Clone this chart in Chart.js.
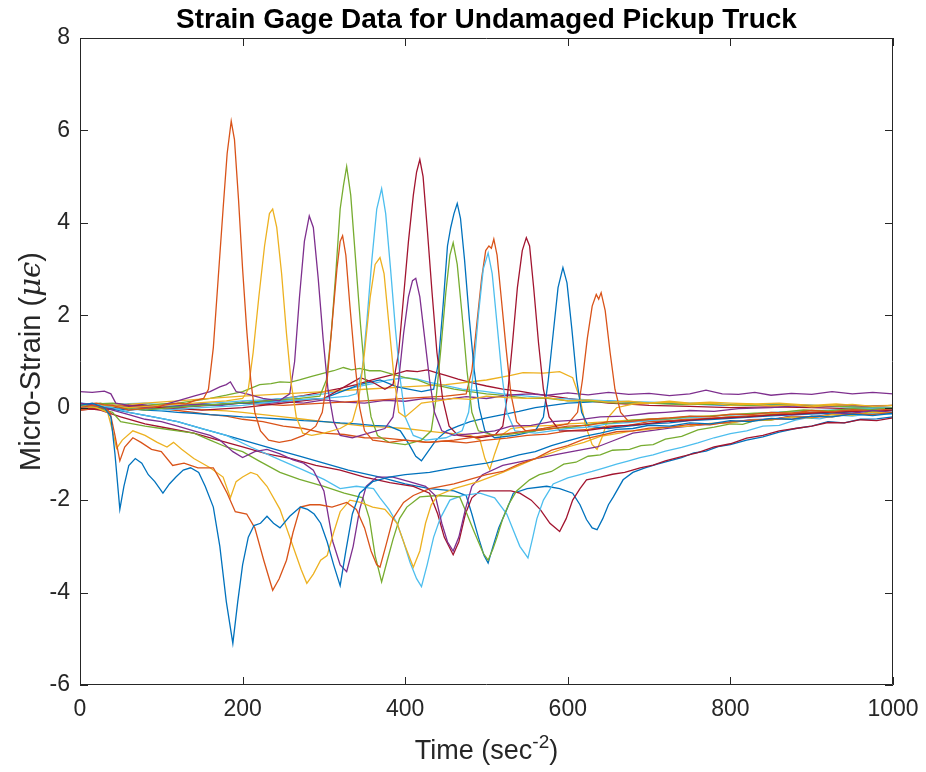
<!DOCTYPE html>
<html lang="en">
<head>
    <meta charset="UTF-8">
    <title>Strain Gage Data for Undamaged Pickup Truck</title>
    <script src="https://cdn.jsdelivr.net/npm/chart.js"></script>
    <style>
        body { margin: 0; background: #fff; }
    </style>
</head>
<body>
    <canvas id="myChart" width="926" height="772"></canvas>
    <script>
        // axis ticks
        const xTicks = [0, 200, 400, 600, 800, 1000];
        const yTicks = [-6, -4, -2, 0, 2, 4, 6, 8];

        // MATLAB default line colours, in plotting order
        const seriesColors = [
            '#0072BD', '#D95319', '#EDB120', '#7E2F8E', '#77AC30', '#4DBEEE', '#A2142F', '#0072BD',
            '#D95319', '#EDB120', '#7E2F8E', '#77AC30', '#4DBEEE', '#A2142F', '#0072BD', '#D95319',
            '#EDB120', '#7E2F8E', '#77AC30', '#4DBEEE', '#A2142F', '#0072BD', '#D95319', '#EDB120'
        ];

        // gages with two negative dips  [time, micro-strain]
        const gage01 = [[0,0.05],[15,0.1],[30,0.0],[38,-0.2],[43,-1.0],[49,-2.2],[54,-1.7],[60,-1.25],[68,-1.1],[76,-1.2],[84,-1.45],[92,-1.6],[102,-1.85],[110,-1.65],[118,-1.5],[127,-1.35],[136,-1.3],[146,-1.4],[154,-1.7],[164,-2.15],[172,-3.0],[180,-4.2],[188,-5.1],[194,-4.2],[200,-3.4],[207,-2.8],[214,-2.55],[222,-2.5],[230,-2.35],[238,-2.5],[246,-2.6],[258,-2.35],[271,-2.15],[280,-2.2],[288,-2.3],[296,-2.5],[304,-2.9],[312,-3.4],[320,-3.85],[327,-3.1],[335,-2.3],[344,-1.85],[360,-1.6],[380,-1.5],[400,-1.45],[430,-1.4],[460,-1.3],[500,-1.2],[520,-1.12],[540,-1.02],[560,-0.95],[580,-0.82],[600,-0.72],[620,-0.62],[640,-0.55],[660,-0.47],[680,-0.45],[700,-0.38],[725,-0.4],[750,-0.33],[775,-0.35],[800,-0.28],[825,-0.3],[850,-0.23],[875,-0.25],[900,-0.18],[925,-0.2],[950,-0.14],[975,-0.17],[1000,-0.12]];
        const gage02 = [[0,0.0],[15,0.05],[30,0.0],[37,-0.1],[43,-0.6],[49,-1.15],[55,-0.85],[65,-0.65],[75,-0.75],[88,-0.9],[100,-0.95],[114,-1.25],[128,-1.2],[145,-1.3],[164,-1.3],[172,-1.55],[181,-1.85],[191,-2.25],[205,-2.3],[215,-2.6],[226,-3.3],[237,-3.95],[245,-3.7],[254,-3.3],[262,-2.7],[271,-2.15],[283,-2.1],[295,-2.1],[310,-2.15],[328,-2.05],[340,-2.2],[350,-2.6],[358,-3.1],[365,-3.4],[369,-3.45],[376,-3.0],[385,-2.4],[398,-2.05],[410,-1.9],[430,-1.75],[460,-1.65],[500,-1.45],[520,-1.38],[540,-1.22],[560,-1.1],[580,-0.92],[600,-0.82],[620,-0.68],[640,-0.6],[660,-0.52],[680,-0.5],[700,-0.44],[725,-0.42],[750,-0.36],[775,-0.37],[800,-0.3],[825,-0.28],[850,-0.24],[875,-0.25],[900,-0.19],[925,-0.2],[950,-0.13],[975,-0.15],[1000,-0.1]];
        const gage03 = [[0,0.05],[20,0.0],[34,-0.1],[40,-0.5],[45,-0.88],[52,-0.7],[65,-0.5],[80,-0.6],[95,-0.75],[107,-0.85],[115,-0.75],[125,-0.9],[140,-1.1],[160,-1.3],[176,-1.5],[185,-1.95],[192,-1.6],[200,-1.5],[210,-1.4],[218,-1.45],[230,-1.7],[246,-2.2],[260,-2.9],[272,-3.5],[279,-3.8],[287,-3.6],[296,-3.3],[304,-3.2],[312,-2.7],[320,-2.25],[332,-2.0],[345,-2.05],[360,-2.15],[375,-2.2],[390,-2.5],[400,-3.0],[410,-3.45],[418,-3.1],[425,-2.5],[432,-2.1],[440,-1.9],[460,-1.75],[490,-1.6],[520,-1.4],[560,-1.1],[600,-0.85],[620,-0.75],[640,-0.62],[660,-0.56],[680,-0.5],[700,-0.47],[725,-0.42],[750,-0.4],[775,-0.34],[800,-0.33],[825,-0.27],[850,-0.26],[875,-0.2],[900,-0.21],[925,-0.15],[950,-0.16],[975,-0.1],[1000,-0.12]];
        const gage04 = [[0,0.1],[20,0.05],[40,-0.05],[60,-0.15],[80,-0.25],[100,-0.3],[120,-0.4],[140,-0.5],[160,-0.6],[172,-0.7],[188,-0.95],[200,-1.08],[215,-0.95],[230,-0.9],[246,-1.0],[262,-1.13],[275,-1.2],[287,-1.35],[300,-1.8],[311,-2.9],[320,-3.4],[328,-3.55],[336,-3.0],[344,-2.2],[352,-1.7],[365,-1.5],[385,-1.5],[405,-1.6],[425,-1.7],[437,-1.9],[445,-2.5],[452,-2.9],[459,-3.1],[466,-2.8],[474,-2.2],[482,-1.7],[495,-1.45],[520,-1.25],[553,-1.13],[590,-1.0],[636,-0.85],[655,-0.72],[680,-0.55],[700,-0.5],[725,-0.44],[750,-0.4],[775,-0.35],[800,-0.32],[825,-0.26],[850,-0.25],[875,-0.18],[900,-0.2],[925,-0.14],[950,-0.12],[975,-0.06],[1000,-0.1]];
        const gage05 = [[0,0.05],[20,0.0],[40,-0.1],[50,-0.3],[65,-0.35],[80,-0.4],[100,-0.45],[120,-0.5],[140,-0.55],[160,-0.7],[180,-0.85],[200,-0.95],[220,-1.15],[246,-1.4],[270,-1.55],[300,-1.7],[325,-1.85],[348,-1.95],[356,-2.4],[363,-3.2],[371,-3.77],[378,-3.3],[385,-2.85],[393,-2.4],[402,-2.15],[418,-1.93],[440,-1.9],[467,-1.93],[476,-2.3],[484,-2.65],[496,-3.15],[502,-3.3],[508,-3.05],[513,-2.8],[520,-2.4],[527,-2.1],[537,-1.8],[553,-1.56],[565,-1.45],[580,-1.38],[595,-1.22],[610,-1.18],[625,-1.05],[640,-1.02],[655,-0.92],[676,-0.9],[690,-0.82],[705,-0.8],[720,-0.68],[740,-0.62],[760,-0.48],[780,-0.42],[800,-0.35],[815,-0.36],[830,-0.28],[850,-0.27],[870,-0.2],[900,-0.22],[925,-0.14],[950,-0.16],[975,-0.08],[1000,-0.1]];
        const gage06 = [[0,0.0],[20,0.05],[40,0.0],[60,-0.1],[90,-0.2],[120,-0.3],[150,-0.45],[180,-0.6],[210,-0.85],[246,-1.13],[275,-1.35],[300,-1.55],[320,-1.75],[340,-1.7],[361,-1.75],[369,-1.95],[380,-2.2],[390,-2.5],[398,-2.9],[406,-3.35],[414,-3.7],[420,-3.87],[427,-3.4],[435,-2.8],[443,-2.4],[455,-2.0],[470,-1.9],[492,-1.85],[510,-1.95],[525,-2.3],[533,-2.65],[541,-3.0],[551,-3.25],[557,-2.8],[562,-2.4],[570,-2.0],[582,-1.65],[600,-1.52],[615,-1.45],[630,-1.38],[645,-1.3],[660,-1.22],[675,-1.15],[689,-1.08],[705,-1.02],[720,-0.94],[740,-0.86],[760,-0.76],[780,-0.65],[800,-0.56],[820,-0.5],[840,-0.4],[860,-0.38],[880,-0.27],[894,-0.22],[910,-0.24],[930,-0.16],[950,-0.18],[975,-0.12],[1000,-0.14]];
        const gage07 = [[0,0.0],[25,-0.05],[50,-0.2],[80,-0.35],[110,-0.45],[140,-0.55],[170,-0.7],[200,-0.85],[230,-1.0],[260,-1.1],[290,-1.25],[320,-1.35],[350,-1.5],[381,-1.62],[410,-1.7],[430,-1.85],[440,-2.3],[448,-2.8],[459,-3.18],[466,-2.9],[474,-2.3],[482,-1.95],[492,-1.8],[510,-1.8],[530,-1.8],[541,-1.85],[555,-2.0],[566,-2.2],[578,-2.5],[590,-2.68],[598,-2.4],[606,-2.0],[615,-1.75],[623,-1.56],[640,-1.5],[655,-1.44],[670,-1.4],[689,-1.3],[705,-1.24],[720,-1.15],[740,-1.06],[760,-0.97],[780,-0.85],[800,-0.78],[820,-0.66],[840,-0.6],[860,-0.5],[880,-0.45],[900,-0.4],[920,-0.32],[940,-0.33],[960,-0.26],[980,-0.28],[1000,-0.22]];
        const gage08 = [[0,0.05],[30,0.0],[60,-0.1],[90,-0.2],[120,-0.3],[150,-0.45],[180,-0.6],[210,-0.75],[240,-0.9],[270,-1.05],[300,-1.2],[330,-1.35],[369,-1.5],[400,-1.65],[430,-1.75],[460,-1.8],[475,-1.9],[482,-2.3],[490,-2.8],[497,-3.2],[502,-3.36],[508,-3.0],[515,-2.6],[525,-2.2],[533,-1.85],[550,-1.75],[574,-1.7],[590,-1.75],[606,-1.85],[615,-2.1],[623,-2.42],[630,-2.6],[636,-2.64],[643,-2.4],[650,-2.1],[656,-1.93],[668,-1.56],[680,-1.4],[695,-1.3],[710,-1.22],[725,-1.15],[740,-1.08],[755,-0.98],[770,-0.94],[785,-0.84],[800,-0.8],[820,-0.7],[840,-0.63],[860,-0.53],[880,-0.45],[900,-0.4],[920,-0.3],[940,-0.33],[960,-0.25],[980,-0.24],[1000,-0.2]];

        // gages with two positive peaks
        const gage09 = [[0,0.05],[10,0.08],[20,0.1],[30,0.06],[40,0.05],[50,0.0],[60,-0.05],[75,-0.02],[90,0.0],[105,0.06],[120,0.1],[130,0.08],[140,0.15],[152,0.2],[158,0.4],[164,1.3],[170,2.8],[176,4.3],[181,5.5],[186,6.2],[190,5.8],[195,4.5],[200,3.0],[205,1.7],[210,0.6],[215,-0.1],[222,-0.5],[232,-0.7],[245,-0.75],[260,-0.7],[275,-0.6],[290,-0.4],[298,-0.1],[304,0.6],[310,1.8],[316,3.0],[320,3.6],[323,3.72],[327,3.3],[332,2.2],[338,1.0],[344,0.0],[350,-0.5],[360,-0.7],[380,-0.75],[400,-0.7],[430,-0.75],[460,-0.7],[500,-0.6],[525,-0.56],[550,-0.5],[575,-0.47],[600,-0.4],[625,-0.38],[650,-0.3],[675,-0.3],[700,-0.25],[725,-0.22],[750,-0.18],[775,-0.2],[800,-0.14],[825,-0.15],[850,-0.1],[875,-0.12],[900,-0.06],[925,-0.09],[950,-0.04],[975,-0.07],[1000,-0.02]];
        const gage10 = [[0,0.0],[30,0.05],[60,0.0],[100,0.05],[140,0.1],[180,0.15],[200,0.2],[207,0.4],[213,1.2],[220,2.4],[227,3.5],[233,4.2],[237,4.3],[242,3.9],[248,2.9],[254,1.6],[260,0.5],[266,-0.2],[274,-0.55],[285,-0.6],[300,-0.55],[320,-0.45],[335,-0.3],[343,0.2],[350,1.2],[357,2.4],[363,3.1],[369,3.25],[374,2.9],[380,1.8],[386,0.7],[392,-0.1],[400,-0.2],[420,0.1],[440,0.15],[460,0.2],[480,0.18],[500,0.25],[525,0.22],[550,0.2],[575,0.22],[600,0.15],[625,0.17],[650,0.12],[675,0.14],[700,0.1],[725,0.12],[750,0.08],[775,0.1],[800,0.05],[825,0.08],[850,0.04],[875,0.06],[900,0.02],[925,0.05],[950,0.07],[975,0.03],[1000,0.05]];
        const gage11 = [[0,0.35],[15,0.33],[30,0.36],[38,0.3],[44,0.1],[60,0.05],[80,0.0],[100,0.05],[120,0.15],[140,0.25],[160,0.35],[172,0.45],[180,0.5],[185,0.56],[192,0.35],[205,0.3],[225,0.2],[245,0.15],[258,0.3],[264,1.0],[270,2.4],[276,3.6],[282,4.15],[287,3.9],[293,2.8],[299,1.5],[305,0.4],[312,-0.3],[320,-0.6],[335,-0.65],[355,-0.55],[375,-0.45],[385,-0.2],[392,0.6],[398,1.6],[404,2.4],[409,2.75],[413,2.8],[418,2.4],[424,1.5],[430,0.6],[436,-0.1],[445,-0.5],[460,-0.6],[490,-0.55],[510,-0.5],[530,-0.4],[555,-0.38],[580,-0.3],[610,-0.27],[640,-0.2],[670,-0.18],[700,-0.12],[720,-0.1],[750,-0.06],[780,-0.08],[810,-0.02],[850,0.0],[880,0.04],[910,0.02],[940,0.06],[970,0.03],[1000,0.05]];
        const gage12 = [[0,0.05],[25,0.1],[50,0.0],[80,-0.05],[110,0.0],[150,0.05],[190,0.1],[230,0.15],[270,0.2],[295,0.25],[303,0.6],[309,1.6],[315,3.0],[320,4.3],[324,4.8],[328,5.22],[333,4.6],[339,3.2],[345,1.8],[351,0.6],[358,-0.2],[366,-0.6],[380,-0.75],[400,-0.8],[420,-0.7],[432,-0.5],[438,0.2],[444,1.3],[450,2.5],[455,3.3],[459,3.57],[464,3.1],[470,2.0],[476,0.8],[482,-0.1],[490,-0.5],[510,-0.6],[525,-0.58],[540,-0.55],[560,-0.5],[580,-0.45],[605,-0.42],[630,-0.35],[655,-0.33],[680,-0.27],[700,-0.25],[725,-0.24],[750,-0.19],[775,-0.18],[800,-0.15],[830,-0.12],[860,-0.1],[890,-0.05],[920,-0.07],[950,-0.02],[975,-0.04],[1000,0.0]];
        const gage13 = [[0,0.1],[30,0.05],[60,0.0],[100,-0.05],[150,0.0],[200,0.05],[250,0.15],[300,0.2],[330,0.25],[340,0.3],[347,0.8],[353,1.9],[359,3.2],[365,4.3],[371,4.74],[376,4.2],[382,3.0],[388,1.7],[394,0.6],[400,-0.2],[410,-0.6],[425,-0.7],[450,-0.65],[470,-0.5],[478,-0.1],[484,0.8],[490,2.0],[496,3.0],[502,3.35],[507,2.9],[513,1.8],[519,0.7],[525,-0.1],[535,-0.5],[560,-0.55],[580,-0.5],[600,-0.45],[625,-0.42],[650,-0.35],[675,-0.32],[700,-0.28],[720,-0.25],[745,-0.22],[770,-0.2],[795,-0.16],[820,-0.15],[850,-0.1],[880,-0.08],[920,-0.05],[960,-0.02],[1000,0.0]];
        const gage14 = [[0,0.0],[30,-0.05],[60,0.05],[100,0.0],[150,-0.05],[200,0.0],[250,0.1],[300,0.2],[330,0.5],[345,0.65],[360,0.55],[375,0.4],[385,0.5],[392,1.2],[398,2.4],[404,3.6],[410,4.6],[414,5.1],[418,5.37],[422,5.0],[427,3.9],[433,2.5],[439,1.2],[446,0.2],[454,-0.4],[465,-0.6],[490,-0.65],[510,-0.6],[520,-0.4],[526,0.3],[532,1.4],[538,2.6],[544,3.4],[549,3.68],[553,3.5],[558,2.6],[564,1.4],[570,0.4],[577,-0.2],[590,-0.5],[620,-0.5],[640,-0.45],[660,-0.4],[690,-0.36],[720,-0.3],[745,-0.28],[770,-0.24],[795,-0.22],[820,-0.2],[850,-0.16],[880,-0.14],[920,-0.1],[960,-0.08],[1000,-0.05]];
        const gage15 = [[0,0.05],[30,0.0],[60,-0.05],[100,0.0],[150,0.05],[200,0.1],[250,0.15],[300,0.2],[344,0.5],[369,0.6],[390,0.45],[420,0.35],[435,0.4],[441,1.0],[447,2.3],[452,3.5],[456,3.9],[460,4.2],[464,4.42],[468,4.1],[473,3.2],[479,1.9],[485,0.8],[491,0.0],[498,-0.5],[510,-0.65],[535,-0.6],[560,-0.5],[570,-0.2],[576,0.6],[582,1.6],[588,2.6],[594,3.03],[599,2.7],[605,1.7],[611,0.6],[617,-0.1],[625,-0.4],[650,-0.45],[675,-0.4],[700,-0.35],[725,-0.33],[750,-0.28],[780,-0.25],[810,-0.22],[845,-0.18],[880,-0.15],[920,-0.12],[960,-0.08],[1000,-0.05]];
        const gage16 = [[0,-0.05],[30,0.0],[60,0.05],[100,0.0],[150,0.05],[200,0.1],[250,0.05],[300,0.1],[350,0.15],[400,0.2],[450,0.25],[475,0.3],[482,0.8],[488,1.8],[494,2.8],[499,3.4],[503,3.5],[506,3.45],[509,3.65],[513,3.3],[518,2.4],[524,1.3],[530,0.3],[537,-0.3],[548,-0.5],[570,-0.45],[600,-0.35],[612,-0.1],[618,0.6],[624,1.5],[630,2.2],[635,2.45],[638,2.35],[641,2.49],[646,2.1],[652,1.2],[658,0.4],[665,-0.1],[675,-0.3],[700,-0.28],[720,-0.3],[745,-0.25],[770,-0.24],[800,-0.2],[830,-0.17],[860,-0.14],[900,-0.1],[940,-0.08],[970,-0.06],[1000,-0.05]];

        // gages with small responses
        const gage17 = [[0,0.0],[40,0.05],[80,0.1],[120,0.15],[160,0.2],[200,0.25],[250,0.3],[300,0.35],[350,0.4],[400,0.45],[450,0.5],[500,0.6],[530,0.7],[545,0.76],[570,0.75],[590,0.78],[606,0.65],[615,0.2],[622,-0.4],[630,-0.8],[636,-0.9],[643,-0.6],[650,-0.2],[660,0.0],[680,0.08],[700,0.1],[725,0.14],[750,0.1],[775,0.12],[800,0.1],[830,0.08],[860,0.1],[900,0.05],[930,0.08],[960,0.04],[1000,0.05]];
        const gage18 = [[0,0.0],[25,0.04],[50,0.02],[75,0.07],[100,0.0],[125,0.05],[150,0.08],[175,0.05],[200,0.12],[225,0.08],[250,0.13],[275,0.1],[300,0.17],[325,0.12],[350,0.1],[375,0.16],[400,0.14],[425,0.2],[450,0.18],[475,0.24],[500,0.2],[525,0.27],[553,0.3],[575,0.27],[600,0.32],[625,0.28],[650,0.33],[675,0.29],[700,0.31],[725,0.26],[750,0.3],[770,0.38],[790,0.3],[810,0.29],[830,0.33],[850,0.27],[875,0.31],[900,0.29],[925,0.35],[950,0.3],[975,0.33],[1000,0.3]];
        const gage19 = [[0,0.05],[20,0.08],[40,0.1],[60,0.06],[80,0.05],[100,0.08],[120,0.1],[140,0.15],[160,0.2],[180,0.27],[200,0.35],[221,0.5],[235,0.52],[246,0.56],[258,0.55],[270,0.6],[285,0.68],[300,0.75],[312,0.8],[324,0.87],[334,0.82],[344,0.85],[356,0.8],[369,0.8],[385,0.72],[400,0.65],[415,0.6],[430,0.5],[445,0.46],[460,0.4],[480,0.35],[500,0.3],[525,0.26],[550,0.2],[575,0.2],[600,0.15],[630,0.14],[660,0.1],[700,0.1],[740,0.07],[780,0.08],[820,0.05],[860,0.06],[900,0.05],[950,0.02],[1000,0.0]];
        const gage20 = [[0,0.1],[20,0.07],[40,0.05],[60,0.09],[80,0.1],[100,0.06],[120,0.05],[140,0.08],[160,0.1],[180,0.12],[200,0.15],[225,0.17],[250,0.2],[275,0.25],[300,0.3],[320,0.36],[340,0.45],[360,0.52],[380,0.6],[400,0.65],[415,0.62],[430,0.55],[450,0.48],[470,0.4],[495,0.36],[520,0.3],[550,0.25],[580,0.2],[615,0.18],[650,0.15],[700,0.12],[750,0.1],[800,0.07],[850,0.05],[900,0.04],[950,0.02],[1000,0.0]];
        const gage21 = [[0,-0.05],[20,-0.02],[40,0.0],[60,0.03],[80,0.05],[100,0.02],[120,0.0],[140,0.03],[160,0.05],[180,0.08],[200,0.1],[225,0.15],[250,0.2],[275,0.26],[300,0.35],[320,0.42],[340,0.5],[355,0.58],[370,0.65],[386,0.72],[402,0.8],[415,0.78],[427,0.82],[438,0.76],[450,0.7],[465,0.62],[480,0.55],[500,0.47],[520,0.4],[540,0.36],[560,0.3],[580,0.25],[600,0.2],[625,0.15],[650,0.1],[675,0.08],[700,0.05],[750,0.03],[800,0.0],[850,0.02],[900,0.0],[950,-0.02],[1000,0.0]];
        const gage22 = [[0,0.05],[20,0.02],[40,0.0],[60,-0.02],[80,-0.05],[100,-0.07],[120,-0.1],[140,-0.12],[160,-0.15],[180,-0.17],[200,-0.2],[225,-0.22],[250,-0.25],[275,-0.28],[300,-0.3],[320,-0.33],[340,-0.35],[360,-0.38],[380,-0.4],[394,-0.5],[405,-0.8],[413,-1.05],[420,-1.15],[428,-0.95],[438,-0.7],[451,-0.5],[465,-0.4],[480,-0.3],[500,-0.22],[520,-0.15],[540,-0.08],[560,0.0],[580,0.05],[600,0.1],[625,0.12],[650,0.15],[675,0.12],[700,0.1],[750,0.08],[800,0.05],[850,0.06],[900,0.05],[950,0.02],[1000,0.0]];
        const gage23 = [[0,0.0],[20,0.04],[40,0.06],[60,0.02],[80,0.0],[100,-0.02],[120,-0.06],[140,-0.1],[160,-0.15],[180,-0.18],[200,-0.25],[225,-0.3],[250,-0.4],[275,-0.45],[300,-0.55],[325,-0.58],[350,-0.65],[375,-0.66],[400,-0.7],[425,-0.75],[450,-0.72],[475,-0.76],[500,-0.7],[525,-0.66],[550,-0.6],[575,-0.57],[600,-0.5],[625,-0.47],[650,-0.4],[675,-0.38],[700,-0.3],[750,-0.26],[800,-0.2],[850,-0.16],[900,-0.1],[950,-0.06],[1000,0.0]];
        const gage24 = [[0,0.05],[20,0.02],[40,0.0],[60,0.03],[80,0.05],[100,0.02],[120,0.0],[140,-0.03],[160,-0.05],[180,-0.07],[200,-0.1],[225,-0.15],[250,-0.2],[275,-0.25],[300,-0.3],[325,-0.35],[350,-0.4],[375,-0.42],[400,-0.45],[425,-0.5],[450,-0.55],[470,-0.57],[480,-0.6],[492,-0.7],[498,-1.1],[504,-1.34],[510,-1.0],[518,-0.6],[530,-0.45],[545,-0.42],[560,-0.4],[580,-0.38],[600,-0.35],[625,-0.33],[650,-0.3],[675,-0.27],[700,-0.25],[750,-0.2],[800,-0.15],[850,-0.12],[900,-0.1],[950,-0.05],[1000,0.0]];

        const allGages = [gage01, gage02, gage03, gage04, gage05, gage06, gage07, gage08,
                          gage09, gage10, gage11, gage12, gage13, gage14, gage15, gage16,
                          gage17, gage18, gage19, gage20, gage21, gage22, gage23, gage24];

        const axisColor = '#262626';
        const fontFamily = '"Liberation Sans", Arial, sans-serif';

        // MATLAB-style box with inward ticks and axis labels
        const matlabFrame = {
            id: 'matlabFrame',
            afterDatasetsDraw(chart) {
                const { ctx, chartArea: a, scales: { x, y } } = chart;
                ctx.save();
                ctx.strokeStyle = axisColor;
                ctx.lineWidth = 1;
                ctx.beginPath();
                ctx.rect(a.left + 0.5, a.top + 0.5, a.right - a.left - 1, a.bottom - a.top - 1);
                xTicks.forEach(v => {
                    const px = Math.round(x.getPixelForValue(v)) + 0.5;
                    ctx.moveTo(px, a.bottom); ctx.lineTo(px, a.bottom - 8);
                    ctx.moveTo(px, a.top); ctx.lineTo(px, a.top + 8);
                });
                yTicks.forEach(v => {
                    const py = Math.round(y.getPixelForValue(v)) + 0.5;
                    ctx.moveTo(a.left, py); ctx.lineTo(a.left + 8, py);
                    ctx.moveTo(a.right, py); ctx.lineTo(a.right - 8, py);
                });
                ctx.stroke();

                // x label with superscript
                ctx.fillStyle = axisColor;
                ctx.textBaseline = 'alphabetic';
                const cx = (a.left + a.right) / 2;
                const mainFont = '27px ' + fontFamily;
                const supFont = '19px ' + fontFamily;
                ctx.font = mainFont;
                const w1 = ctx.measureText('Time (sec').width;
                const w3 = ctx.measureText(')').width;
                ctx.font = supFont;
                const w2 = ctx.measureText('-2').width;
                const sx = cx - (w1 + w2 + w3) / 2;
                const base = 759;
                ctx.textAlign = 'left';
                ctx.font = mainFont;
                ctx.fillText('Time (sec', sx, base);
                ctx.font = supFont;
                ctx.fillText('-2', sx + w1, base - 11);
                ctx.font = mainFont;
                ctx.fillText(')', sx + w1 + w2, base);

                // y label, rotated
                ctx.translate(32, (a.top + a.bottom) / 2);
                ctx.rotate(-Math.PI / 2);
                const yFont = '29px ' + fontFamily;
                const italFont = 'italic 29px "DejaVu Serif", serif';
                ctx.font = yFont;
                const t1 = ctx.measureText('Micro-Strain (').width;
                const t3 = ctx.measureText(')').width;
                ctx.font = italFont;
                const t2 = ctx.measureText('\u03bc\u03f5').width;
                const ty = -(t1 + t2 + t3) / 2;
                ctx.textBaseline = 'middle';
                ctx.font = yFont;
                ctx.fillText('Micro-Strain (', ty, 0);
                ctx.font = italFont;
                ctx.fillText('\u03bc\u03f5', ty + t1, 0);
                ctx.font = yFont;
                ctx.fillText(')', ty + t1 + t2, 0);
                ctx.restore();
            }
        };

        const ctx = document.getElementById('myChart').getContext('2d');

        const myChart = new Chart(ctx, {
            type: 'line',
            data: {
                datasets: allGages.map((pts, i) => ({
                    label: 'Gage ' + (i + 1),
                    data: pts.map(p => ({ x: p[0], y: p[1] })),
                    borderColor: seriesColors[i],
                    borderWidth: 1.3,
                    pointRadius: 0,
                    tension: 0,
                    fill: false
                }))
            },
            options: {
                responsive: false,
                animation: false,
                layout: { padding: { left: 0, right: 33, top: 0, bottom: 0 } },
                plugins: {
                    legend: { display: false },
                    tooltip: { enabled: false },
                    title: {
                        display: true,
                        fullSize: false,
                        text: 'Strain Gage Data for Undamaged Pickup Truck',
                        color: '#000',
                        font: { family: fontFamily, size: 28, weight: 'bold', lineHeight: 1.2 },
                        padding: { top: 3, bottom: 1.4 }
                    }
                },
                scales: {
                    x: {
                        type: 'linear',
                        min: 0,
                        max: 1000,
                        grid: { display: false, drawTicks: false },
                        border: { display: false },
                        afterFit(scale) {
                            scale.height = 87;
                            scale.paddingLeft = 0;
                            scale.paddingRight = 0;
                        },
                        afterBuildTicks(scale) { scale.ticks = xTicks.map(v => ({ value: v })); },
                        ticks: {
                            color: axisColor,
                            padding: 11,
                            maxRotation: 0,
                            font: { family: fontFamily, size: 23 },
                            callback: v => String(v)
                        }
                    },
                    y: {
                        min: -6,
                        max: 8,
                        grid: { display: false, drawTicks: false },
                        border: { display: false },
                        afterFit(scale) {
                            scale.width = 80;
                            scale.paddingTop = 0;
                            scale.paddingBottom = 0;
                        },
                        afterBuildTicks(scale) { scale.ticks = yTicks.map(v => ({ value: v })); },
                        ticks: {
                            color: axisColor,
                            padding: 10,
                            font: { family: fontFamily, size: 23 },
                            callback: v => String(v)
                        }
                    }
                }
            },
            plugins: [matlabFrame]
        });
    </script>
</body>
</html>
